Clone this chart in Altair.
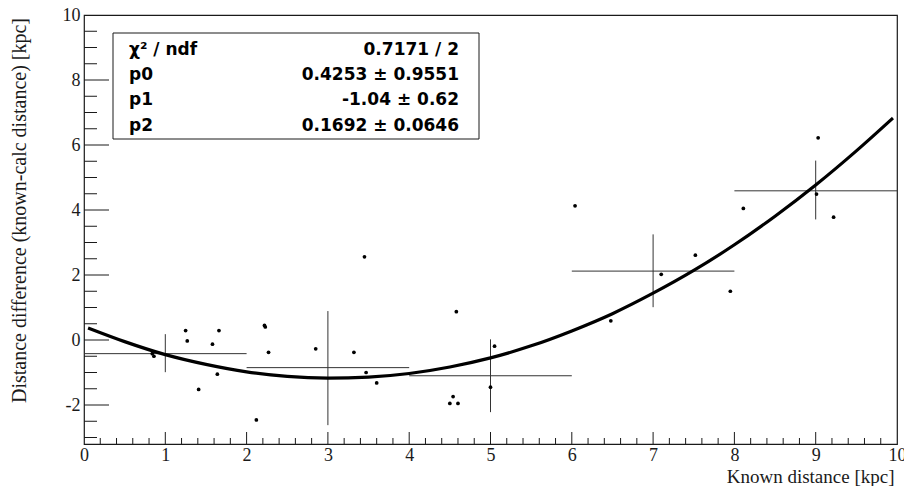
import altair as alt
import pandas as pd

# ---- data ----
pt_x = [0.84, 0.86, 1.25, 1.27, 1.41, 1.58, 1.64, 1.66, 2.12, 2.22, 2.23, 2.27,
        2.85, 3.32, 3.45, 3.47, 3.60, 4.50, 4.54, 4.58, 4.60, 5.00, 5.05,
        6.04, 6.48, 7.10, 7.52, 7.95, 8.11, 9.01, 9.03, 9.22]
pt_y = [-0.42, -0.50, 0.29, -0.03, -1.52, -0.13, -1.05, 0.29, -2.46, 0.45, 0.40, -0.38,
        -0.27, -0.38, 2.56, -1.00, -1.32, -1.95, -1.74, 0.87, -1.95, -1.45, -0.19,
        4.13, 0.59, 2.02, 2.61, 1.50, 4.05, 4.49, 6.22, 3.78]

prof_x = [1, 3, 5, 7, 9]
prof_bin_lo = [0, 2, 4, 6, 8]
prof_bin_hi = [2, 4, 6, 8, 10]
prof_mean = [-0.42, -0.85, -1.10, 2.12, 4.59]
prof_err_lo = [-0.99, -2.62, -2.22, 1.01, 3.71]
prof_err_hi = [0.18, 0.89, 0.02, 3.25, 5.52]

fit_x = [0.05, 0.5, 1.0, 1.5, 2.0, 2.5, 3.0, 3.5, 4.0, 4.5, 5.0, 5.5, 6.0, 6.5,
         7.0, 7.5, 8.0, 8.5, 9.0, 9.5, 9.95]
fit_y = [0.37, -0.05, -0.45, -0.75, -0.98, -1.12, -1.17, -1.14, -1.03, -0.83, -0.55,
         -0.18, 0.28, 0.81, 1.44, 2.14, 2.93, 3.81, 4.77, 5.82, 6.83]

stat_names = ["χ² / ndf", "p0", "p1", "p2"]
stat_values = ["0.7171 / 2", "0.4253 ± 0.9551", "-1.04 ± 0.62", "0.1692 ± 0.0646"]

x_major = [0, 1, 2, 3, 4, 5, 6, 7, 8, 9, 10]
x_minor = [round(i * 0.2, 2) for i in range(51) if i % 5 != 0]
y_major = [-2, 0, 2, 4, 6, 8, 10]
y_minor = [-3.0, -2.5, -1.5, -1.0, -0.5, 0.5, 1.0, 1.5, 2.5, 3.0, 3.5, 4.5, 5.0, 5.5,
           6.5, 7.0, 7.5, 8.5, 9.0, 9.5]

# ---- layout ----
W, H = 813, 429
SERIF = "Liberation Serif"
SANS = "DejaVu Sans"
INK = "#1a1a1a"

xs = alt.Scale(domain=[0, 10], nice=False, zero=False)
ys = alt.Scale(domain=[-3.2, 10], nice=False, zero=False)

xaxis = alt.Axis(values=x_major, labelExpr="'' + datum.value", tickSize=0, domain=False,
                 grid=False, labelFont=SERIF, labelFontSize=18, labelColor=INK,
                 labelPadding=2, labelFlush=False, labelOverlap=False,
                 title="Known distance [kpc]", titleFont=SERIF, titleFontSize=19,
                 titleFontWeight="normal", titleColor=INK, titleAnchor="end",
                 titleAlign="right", titleX=W - 3, titleY=38, titleBaseline="alphabetic")
yaxis = alt.Axis(values=y_major, labelExpr="'' + datum.value", tickSize=0, domain=False,
                 grid=False, labelFont=SERIF, labelFontSize=18, labelColor=INK,
                 labelPadding=4, labelFlush=False, labelOverlap=False,
                 title="Distance difference (known-calc distance) [kpc]", titleFont=SERIF,
                 titleFontSize=20, titleFontWeight="normal", titleColor=INK,
                 titleAngle=-90, titleAlign="center", titleBaseline="middle",
                 titleX=-65, titleY=195)

def X(field):
    return alt.X(field, type="quantitative", scale=xs, axis=xaxis)

def Y(field):
    return alt.Y(field, type="quantitative", scale=ys, axis=yaxis)

pts = pd.DataFrame({"x": pt_x, "y": pt_y})
prof = pd.DataFrame({"x": prof_x, "lo": prof_bin_lo, "hi": prof_bin_hi,
                     "m": prof_mean, "elo": prof_err_lo, "ehi": prof_err_hi})
fit = pd.DataFrame({"x": fit_x, "y": fit_y})

xmaj = alt.Chart(pd.DataFrame({"t": x_major[1:-1]})).mark_rule(color=INK, strokeWidth=1).encode(
    x=X("t"), y=alt.value(H), y2=alt.value(H - 12))
xmin = alt.Chart(pd.DataFrame({"t": x_minor})).mark_rule(color=INK, strokeWidth=1).encode(
    x=X("t"), y=alt.value(H), y2=alt.value(H - 6))
ymaj = alt.Chart(pd.DataFrame({"t": y_major[:-1]})).mark_rule(color=INK, strokeWidth=1).encode(
    y=Y("t"), x=alt.value(0), x2=alt.value(25))
ymin = alt.Chart(pd.DataFrame({"t": y_minor})).mark_rule(color=INK, strokeWidth=1).encode(
    y=Y("t"), x=alt.value(0), x2=alt.value(13))

hbar = alt.Chart(prof).mark_rule(color="#333333", strokeWidth=1).encode(
    x=X("lo"), x2="hi", y=Y("m"))
vbar = alt.Chart(prof).mark_rule(color="#333333", strokeWidth=1).encode(
    x=X("x"), y=Y("elo"), y2="ehi")

dots = alt.Chart(pts).mark_circle(color="black", size=14, opacity=1).encode(
    x=X("x"), y=Y("y"))

curve = alt.Chart(fit).mark_line(color="black", strokeWidth=3.2, interpolate="monotone").encode(
    x=X("x"), y=Y("y"))

box = alt.Chart(pd.DataFrame({"a": [0]})).mark_rect(
    fill="white", stroke=INK, strokeWidth=1).encode(
    x=alt.value(29), x2=alt.value(395), y=alt.value(18), y2=alt.value(124))

names = alt.Chart(pd.DataFrame({"a": [0]})).mark_text(
    font=SANS, fontSize=17, fontWeight="bold", align="left", baseline="alphabetic",
    lineBreak="\n", lineHeight=25.2, color="black").encode(
    x=alt.value(45), y=alt.value(40), text=alt.value("\n".join(stat_names)))
vals = alt.Chart(pd.DataFrame({"a": [0]})).mark_text(
    font=SANS, fontSize=17, fontWeight="bold", align="right", baseline="alphabetic",
    lineBreak="\n", lineHeight=25.2, color="black").encode(
    x=alt.value(375), y=alt.value(40), text=alt.value("\n".join(stat_values)))

chart = alt.layer(xmaj, xmin, ymaj, ymin, hbar, vbar, dots, curve, box, names, vals).properties(
    width=W, height=H,
    autosize=alt.AutoSizeParams(type="none"),
    padding={"left": 84, "top": 15, "right": 7, "bottom": 42},
    background="white",
).configure_view(stroke=INK, strokeWidth=1.2)

chart.save("out.html", embed_options={"renderer": "svg", "actions": False})
